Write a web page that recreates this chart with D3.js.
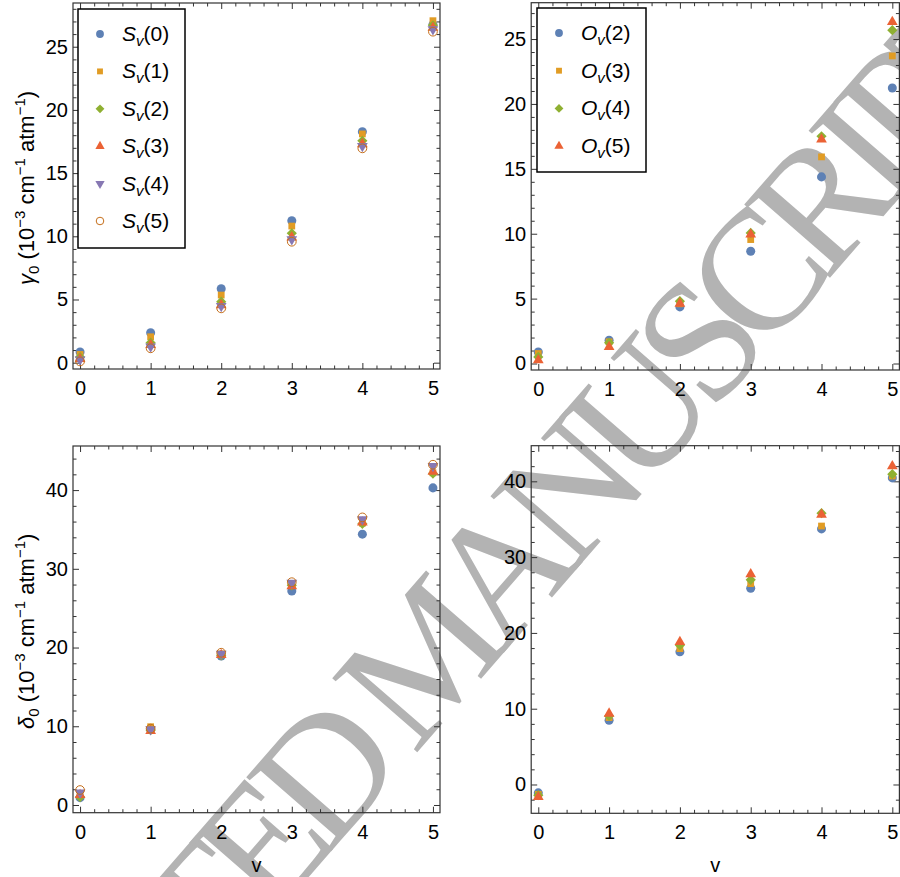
<!DOCTYPE html>
<html>

<head>
    <meta charset="utf-8" />
    <title>gamma0 / delta0 vs v</title>
</head>

<script src="https://cdn.jsdelivr.net/npm/d3@7"></script>

<style>
    body {
        margin: 0;
        background: #ffffff;
    }

    svg {
        display: block;
        font-family: "Liberation Sans", Arial, sans-serif;
    }

    .frame {
        fill: none;
        stroke: #333333;
        stroke-width: 1.2px;
    }

    .legend-box {
        fill: #ffffff;
        stroke: #000000;
        stroke-width: 1.5px;
    }

    .watermark {
        font-family: "Liberation Serif", "Times New Roman", serif;
        font-size: 172px;
        letter-spacing: -18px;
        fill: #b3b3b3;
    }
</style>

<body onload="startVisualize()">
    <svg width="900" height="877"></svg>
</body>

</html>

<script>
    // vibrational level on the x axis
    var vLevels = [0, 1, 2, 3, 4, 5];

    // gamma_0, S_v(0) .. S_v(5)
    var gammaS = [
        [0.85, 2.37, 5.85, 11.23, 18.28, 26.75],
        [0.65, 2.05, 5.35, 10.81, 18.10, 27.06],
        [0.45, 1.58, 4.83, 10.24, 17.56, 26.70],
        [0.30, 1.40, 4.56, 9.92, 17.30, 26.50],
        [0.25, 1.27, 4.48, 9.76, 17.14, 26.37],
        [0.10, 1.14, 4.30, 9.57, 16.96, 26.19]
    ];

    // gamma_0, O_v(2) .. O_v(5)
    var gammaO = [
        [0.89, 1.80, 4.36, 8.65, 14.38, 21.23],
        [0.77, 1.67, 4.60, 9.55, 15.92, 23.70],
        [0.51, 1.59, 4.80, 10.06, 17.51, 25.68],
        [0.25, 1.28, 4.62, 9.94, 17.26, 26.32]
    ];

    // delta_0, S_v(0) .. S_v(5)
    var deltaS = [
        [0.93, 9.60, 18.92, 27.17, 34.40, 40.28],
        [1.20, 9.94, 19.20, 28.00, 35.80, 42.20],
        [1.00, 9.50, 19.00, 27.90, 35.72, 42.10],
        [1.27, 9.40, 19.05, 27.80, 35.90, 42.35],
        [1.56, 9.60, 19.20, 28.23, 36.28, 43.05],
        [1.90, 9.70, 19.34, 28.30, 36.53, 43.22]
    ];

    // delta_0, O_v(2) .. O_v(5)
    var deltaO = [
        [-1.10, 8.48, 17.50, 25.90, 33.72, 40.45],
        [-1.30, 8.83, 17.93, 26.50, 34.10, 40.70],
        [-1.41, 9.05, 18.38, 27.00, 35.80, 40.94],
        [-1.63, 9.36, 18.80, 27.74, 35.60, 42.00]
    ];

    var sLabels = ['0', '1', '2', '3', '4', '5'];
    var oLabels = ['2', '3', '4', '5'];

    var seriesColors = ['#5E81B5', '#E19C24', '#8FB032', '#EB6235', '#8778B3', '#C56E1A'];
    var seriesShapes = ['circle', 'square', 'diamond', 'triangleUp', 'triangleDown', 'openCircle'];

    var xTicks = [0, 1, 2, 3, 4, 5];
    var gammaTicks = [0, 5, 10, 15, 20, 25];
    var deltaTicks = [0, 10, 20, 30, 40];

    function startVisualize() {
        var svg = d3.select('svg');

        // watermark sits under the plots
        svg.append('text')
            .attr('class', 'watermark')
            .attr('transform', 'translate(-91, 1337) rotate(-49)')
            .text('ACCEPTED MANUSCRIPT');

        var panels = [
            {
                data: gammaS, letter: 'S', labels: sLabels,
                left: 73, right: 440, top: 3, bottom: 369,
                xdom: [-0.1, 5.1], ydom: [-0.5, 28.46],
                yTicks: gammaTicks, yMinorStep: 1,
                legend: { x: 78, y: 9, w: 107, h: 239, step: 37.4 },
                ylabel: 'gamma', xlabel: false
            },
            {
                data: gammaO, letter: 'O', labels: oLabels,
                left: 531.2, right: 899.4, top: 2.7, bottom: 370,
                xdom: [-0.1, 5.1], ydom: [-0.5, 27.8],
                yTicks: gammaTicks, yMinorStep: 1,
                legend: { x: 537, y: 8, w: 109, h: 164, step: 37.7 },
                ylabel: null, xlabel: false
            },
            {
                data: deltaS, letter: 'S', labels: sLabels,
                left: 73, right: 440, top: 446, bottom: 812.7,
                xdom: [-0.1, 5.1], ydom: [-0.98, 45.6],
                yTicks: deltaTicks, yMinorStep: 2,
                legend: null, ylabel: 'delta', xlabel: true
            },
            {
                data: deltaO, letter: 'O', labels: oLabels,
                left: 531.2, right: 899.4, top: 445.7, bottom: 813.3,
                xdom: [-0.1, 5.1], ydom: [-3.8, 44.7],
                yTicks: deltaTicks, yMinorStep: 2,
                legend: null, ylabel: null, xlabel: true
            }
        ];

        panels.forEach(function(p) {
            drawPanel(svg, p);
        });
    }

    function markerPath(shape, scale) {
        var k = scale || 1;
        if (shape === 'circle') return d3.symbol(d3.symbolCircle, 64 * k)();
        if (shape === 'openCircle') return d3.symbol(d3.symbolCircle, 60 * k)();
        if (shape === 'square') return d3.symbol(d3.symbolSquare, 46 * k)();
        if (shape === 'diamond') return d3.symbol(d3.symbolSquare, 52 * k)();
        return d3.symbol(d3.symbolTriangle, 50 * k)();
    }

    function markerRotation(shape) {
        if (shape === 'diamond') return ' rotate(45)';
        if (shape === 'triangleDown') return ' rotate(180)';
        return '';
    }

    function styleMarker(sel, idx) {
        var shape = seriesShapes[idx];
        if (shape === 'openCircle') {
            sel.attr('fill', 'none')
                .attr('stroke', seriesColors[idx])
                .attr('stroke-width', 1);
        } else {
            sel.attr('fill', seriesColors[idx]);
        }
    }

    function minorValues(dom, step, majors) {
        var start = Math.ceil(dom[0] / step) * step;
        return d3.range(start, dom[1] + 1e-9, step).filter(function(v) {
            return majors.every(function(m) { return Math.abs(m - v) > 1e-6; });
        });
    }

    function styleAxis(g, labelled) {
        g.attr('font-size', null).attr('font-family', null).attr('color', '#333');
        g.select('.domain').remove();
        if (labelled) {
            g.selectAll('text').attr('fill', '#000').style('font-size', '20px');
        }
    }

    function drawPanel(svg, p) {
        var x = d3.scaleLinear().domain(p.xdom).range([p.left, p.right]);
        var y = d3.scaleLinear().domain(p.ydom).range([p.bottom, p.top]);

        var g = svg.append('g');

        var xMinor = minorValues(p.xdom, 0.2, xTicks);
        var yMinor = minorValues(p.ydom, p.yMinorStep, p.yTicks);

        // bottom & left with labels, top & right mirrored
        g.append('g').attr('transform', 'translate(0,' + p.bottom + ')')
            .call(d3.axisBottom(x).tickValues(xTicks).tickSize(-6).tickPadding(12).tickFormat(d3.format('d')))
            .call(styleAxis, true);
        g.append('g').attr('transform', 'translate(0,' + p.bottom + ')')
            .call(d3.axisBottom(x).tickValues(xMinor).tickSize(-3.5).tickFormat(''))
            .call(styleAxis, false);
        g.append('g').attr('transform', 'translate(0,' + p.top + ')')
            .call(d3.axisTop(x).tickValues(xTicks).tickSize(-6).tickFormat(''))
            .call(styleAxis, false);
        g.append('g').attr('transform', 'translate(0,' + p.top + ')')
            .call(d3.axisTop(x).tickValues(xMinor).tickSize(-3.5).tickFormat(''))
            .call(styleAxis, false);

        g.append('g').attr('transform', 'translate(' + p.left + ',0)')
            .call(d3.axisLeft(y).tickValues(p.yTicks).tickSize(-6).tickPadding(5).tickFormat(d3.format('d')))
            .call(styleAxis, true);
        g.append('g').attr('transform', 'translate(' + p.left + ',0)')
            .call(d3.axisLeft(y).tickValues(yMinor).tickSize(-3.5).tickFormat(''))
            .call(styleAxis, false);
        g.append('g').attr('transform', 'translate(' + p.right + ',0)')
            .call(d3.axisRight(y).tickValues(p.yTicks).tickSize(-6).tickFormat(''))
            .call(styleAxis, false);
        g.append('g').attr('transform', 'translate(' + p.right + ',0)')
            .call(d3.axisRight(y).tickValues(yMinor).tickSize(-3.5).tickFormat(''))
            .call(styleAxis, false);

        g.append('rect')
            .attr('class', 'frame')
            .attr('x', p.left)
            .attr('y', p.top)
            .attr('width', p.right - p.left)
            .attr('height', p.bottom - p.top);

        // points, one group per series
        p.data.forEach(function(vals, si) {
            var shape = seriesShapes[si];
            g.append('g')
                .selectAll('path')
                .data(vals)
                .enter()
                .append('path')
                .attr('d', markerPath(shape))
                .attr('transform', function(d, idx) {
                    return 'translate(' + x(vLevels[idx]) + ',' + y(d) + ')' + markerRotation(shape);
                })
                .call(styleMarker, si);
        });

        if (p.legend) drawLegend(g, p);

        if (p.xlabel) {
            g.append('text')
                .attr('x', x(2.5))
                .attr('y', 872)
                .style('text-anchor', 'middle')
                .style('font-size', '20px')
                .text('v');
        }

        if (p.ylabel) {
            var cy = (p.top + p.bottom) / 2 + 2;
            var t = g.append('text')
                .attr('transform', 'translate(34,' + cy + ') rotate(-90)')
                .style('text-anchor', 'middle')
                .style('font-size', '22px');
            t.append('tspan').style('font-style', 'italic')
                .text(p.ylabel === 'gamma' ? 'γ' : 'δ');
            t.append('tspan').attr('dy', 5).style('font-size', '15px').text('0');
            t.append('tspan').attr('dy', -5).text(' (10');
            t.append('tspan').attr('dy', -9).style('font-size', '15px').text('−3');
            t.append('tspan').attr('dy', 9).text(' cm');
            t.append('tspan').attr('dy', -9).style('font-size', '15px').text('−1');
            t.append('tspan').attr('dy', 9).text(' atm');
            t.append('tspan').attr('dy', -9).style('font-size', '15px').text('−1');
            t.append('tspan').attr('dy', 9).text(')');
        }
    }

    function drawLegend(g, p) {
        var L = p.legend;
        var lg = g.append('g').attr('transform', 'translate(' + L.x + ',' + L.y + ')');
        lg.append('rect')
            .attr('class', 'legend-box')
            .attr('width', L.w)
            .attr('height', L.h);

        var items = lg.selectAll('g.item')
            .data(p.labels)
            .enter()
            .append('g')
            .attr('class', 'item')
            .attr('transform', function(d, idx) {
                return 'translate(0,' + (25 + idx * L.step) + ')';
            });

        items.append('path')
            .attr('d', function(d, idx) { return markerPath(seriesShapes[idx], 0.75); })
            .attr('transform', function(d, idx) {
                return 'translate(22,0)' + markerRotation(seriesShapes[idx]);
            })
            .each(function(d, idx) { d3.select(this).call(styleMarker, idx); });

        var txt = items.append('text')
            .attr('x', 44)
            .attr('y', 7)
            .style('font-size', '21px');
        txt.append('tspan').style('font-style', 'italic').text(p.letter);
        txt.append('tspan').attr('dy', 5).style('font-style', 'italic').style('font-size', '15px').text('v');
        txt.append('tspan').attr('dy', -5).text(function(d) { return '(' + d + ')'; });
    }
</script>
